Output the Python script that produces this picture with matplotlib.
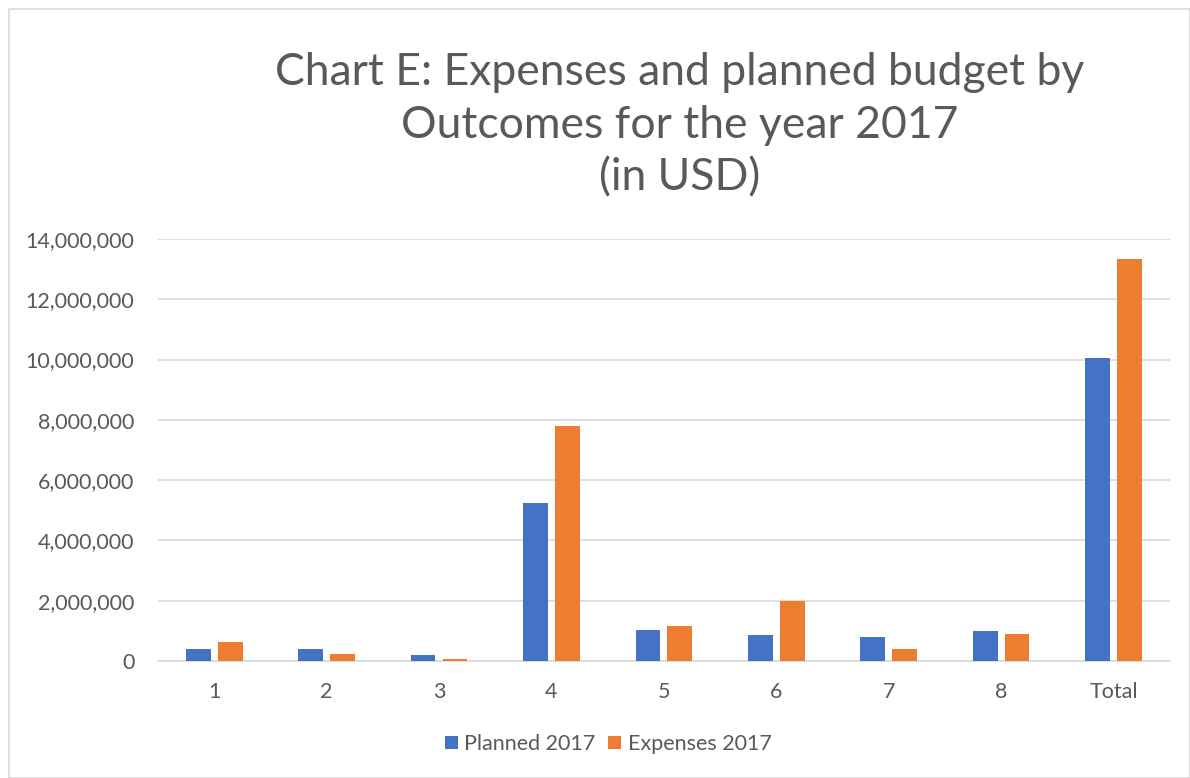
import numpy as np
import matplotlib.pyplot as plt
from matplotlib.patches import Rectangle
from matplotlib.ticker import FuncFormatter

# データ
categories = ['1', '2', '3', '4', '5', '6', '7', '8', 'Total']
planned_2017 = [385000, 385000, 200000, 5240000, 1030000, 860000, 800000, 1000000, 10050000]
expenses_2017 = [640000, 242000, 76000, 7800000, 1170000, 1990000, 400000, 885000, 13320000]

plt.rcParams['font.family'] = ['Lato', 'DejaVu Sans']

fig = plt.figure(figsize=(11.9, 7.78), dpi=100)
ax = fig.add_axes([0.1328, 0.1504, 0.8502, 0.5424])

# 外枠
fig.patches.append(Rectangle((9 / 1190, 0), 1 - 9 / 1190, 1 - 9 / 778, transform=fig.transFigure,
                             fill=False, edgecolor='#d9d9d9', linewidth=1.2))

x = np.arange(len(categories))
w = 0.22
ax.bar(x - 0.142, planned_2017, w, color='#4472c4', label='Planned 2017', zorder=3)
ax.bar(x + 0.142, expenses_2017, w, color='#ed7d31', label='Expenses 2017', zorder=3)

ax.set_xlim(-0.5, len(categories) - 0.5)
ax.set_ylim(0, 14000000)
ax.set_yticks(np.arange(0, 14000001, 2000000))
ax.yaxis.set_major_formatter(FuncFormatter(lambda v, p: f'{int(v):,}'))
ax.set_xticks(x)
ax.set_xticklabels(categories)

ax.grid(axis='y', color='#d9d9d9', linewidth=1.2, zorder=0)
for s in ['top', 'right', 'left']:
    ax.spines[s].set_visible(False)
ax.spines['bottom'].set_color('#d9d9d9')
ax.spines['bottom'].set_linewidth(1.2)
ax.tick_params(axis='y', length=0, labelsize=15.5, labelcolor='#595959', pad=17)
ax.tick_params(axis='x', length=0, labelsize=15.5, labelcolor='#595959', pad=15)

fig.text(0.571, 0.839, 'Chart E: Expenses and planned budget by\nOutcomes for the year 2017\n(in USD)',
         ha='center', va='center', fontsize=32, color='#595959', linespacing=1.35)

fig.legend(*ax.get_legend_handles_labels(), loc='center', bbox_to_anchor=(0.511, 1 - 744 / 778),
           ncol=2, frameon=False, fontsize=15.5, labelcolor='#595959',
           handlelength=0.6, handleheight=0.6, handletextpad=0.3, columnspacing=0.6)

fig.savefig('out.png', dpi=100)
